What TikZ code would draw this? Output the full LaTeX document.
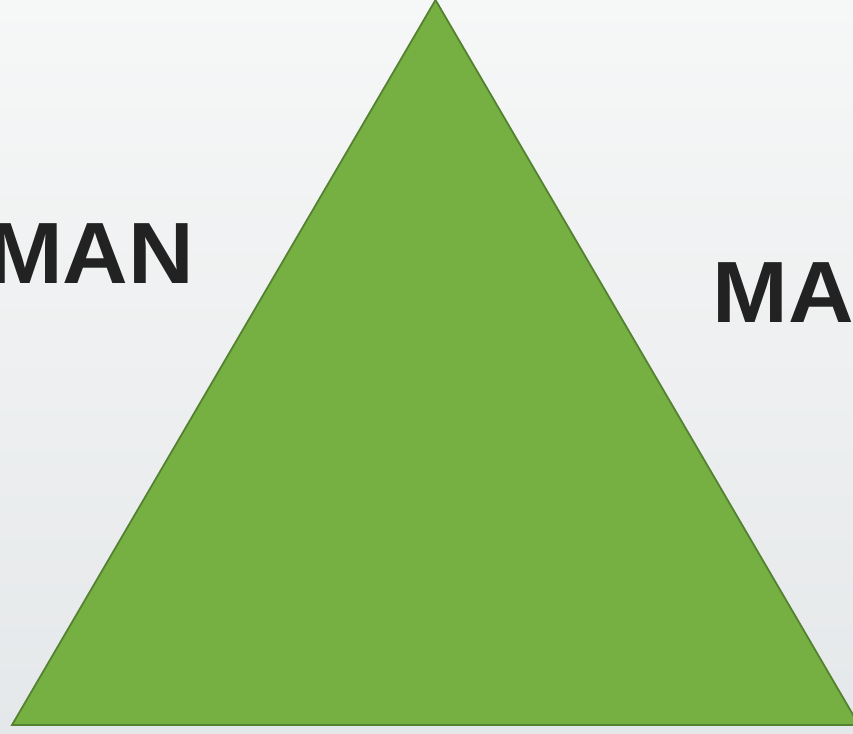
\documentclass[tikz,border=0pt]{standalone}
\usepackage{fontspec}
\setmainfont{Liberation Sans}
\newfontfamily\sidefont[FakeStretch=1.045]{Liberation Sans}
\usetikzlibrary{positioning}

\definecolor{leafgreen}{RGB}{119,176,66}
\definecolor{leafedge}{RGB}{84,130,48}
\definecolor{inkgray}{RGB}{34,34,34}

\begin{document}
\begin{tikzpicture}[x=1pt,y=-1pt,
        side label/.style={inner sep=0pt, text=inkgray,
            font=\sidefont\fontsize{87}{87}\selectfont\bfseries},
        pyramid/.style={fill=leafgreen, draw=leafedge, line width=1.8pt, line join=miter}
    ]
    % background
    \shade[top color={rgb,255:red,246;green,247;blue,247},
           bottom color={rgb,255:red,229;green,232;blue,234}]
        (0,0) rectangle (853,733);
    \useasboundingbox (0,0) rectangle (853,733);

    \coordinate (apex) at (435.5,0);
    \coordinate (left) at (12,725);
    \coordinate (right) at (859,725);
    \draw[pyramid] (apex) -- (left) -- (right) -- cycle;

    \node[side label, anchor=base west] (manleft) at (-13,283) {MAN};
    \node[side label, anchor=base west] (manright) at (712.5,322) {MA};
\end{tikzpicture}
\end{document}
